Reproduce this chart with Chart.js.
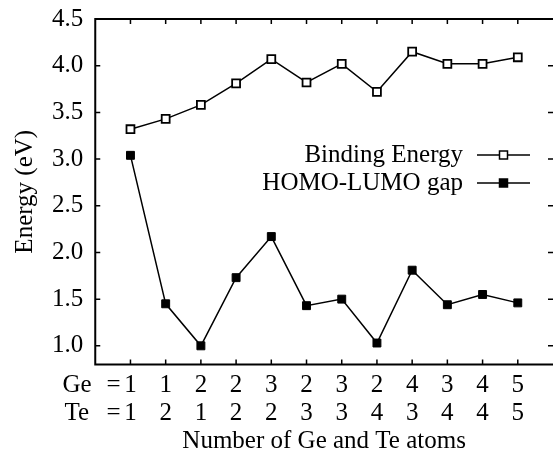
<!DOCTYPE html>
<html>
<head>
<meta charset="utf-8">
<script src="https://cdn.jsdelivr.net/npm/chart.js@4/dist/chart.umd.min.js"></script>
<style>
  html, body { margin: 0; padding: 0; background: #fff; }
</style>
</head>
<body>
<canvas id="grafico" width="553" height="459"></canvas>
<script>
/* DADOS */

const posicoes = [1, 2, 3, 4, 5, 6, 7, 8, 9, 10, 11, 12];
const atomosGe = ['1', '1', '2', '2', '3', '2', '3', '2', '4', '3', '4', '5'];
const atomosTe = ['1', '2', '1', '2', '2', '3', '3', '4', '3', '4', '4', '5'];
const bindingEnergy = [3.32, 3.43, 3.58, 3.81, 4.07, 3.82, 4.02, 3.72, 4.15, 4.02, 4.02, 4.09];
const homoLumo = [3.04, 1.45, 1.00, 1.73, 2.17, 1.43, 1.50, 1.03, 1.81, 1.44, 1.55, 1.46];
const ticksY = [1.0, 1.5, 2.0, 2.5, 3.0, 3.5, 4.0, 4.5];

const familia = '"Liberation Serif", "Times New Roman", serif';
const fonte = '25px ' + familia;
const paddingX = 7;
const alturaLinha = 28;

function pontos(valores) {
    return valores.map((v, i) => ({ x: posicoes[i], y: v }));
}

/* MOLDURA, TICKS PARA DENTRO E LEGENDA */

const moldura = {
    id: 'moldura',
    afterDraw(chart) {
        const ctx = chart.ctx;
        const area = chart.chartArea;
        const sx = chart.scales.x;
        const sy = chart.scales.y;
        ctx.save();
        ctx.strokeStyle = '#000';
        ctx.lineWidth = 2;
        // esquerda, topo e base (a borda direita fica fora da imagem)
        ctx.beginPath();
        ctx.moveTo(area.right + 2, area.top);
        ctx.lineTo(area.left, area.top);
        ctx.lineTo(area.left, area.bottom);
        ctx.lineTo(area.right + 2, area.bottom);
        ctx.stroke();

        ctx.lineWidth = 1.5;
        ctx.beginPath();
        posicoes.forEach(p => {
            let x = sx.getPixelForValue(p);
            ctx.moveTo(x, area.top);
            ctx.lineTo(x, area.top + 5);
            ctx.moveTo(x, area.bottom);
            ctx.lineTo(x, area.bottom - 5);
        });
        ticksY.forEach(v => {
            let y = sy.getPixelForValue(v);
            ctx.moveTo(area.left, y);
            ctx.lineTo(area.left + 5, y);
            ctx.moveTo(area.right, y);
            ctx.lineTo(area.right - 5, y);
        });
        ctx.stroke();

        // "Ge =" e "Te =" antes do primeiro rotulo
        ctx.font = fonte;
        ctx.fillStyle = '#000';
        ctx.textBaseline = 'middle';
        ctx.textAlign = 'left';
        let x1 = sx.getPixelForValue(posicoes[0]);
        let y1 = sx.top + paddingX + alturaLinha / 2;
        ctx.fillText('Ge', x1 - 68, y1);
        ctx.fillText('Te', x1 - 66, y1 + alturaLinha);
        ctx.textAlign = 'center';
        ctx.fillText('=', x1 - 17, y1);
        ctx.fillText('=', x1 - 17, y1 + alturaLinha);

        // legenda
        const legendas = [
            { texto: 'Binding Energy', ds: chart.data.datasets[0], y: 155 },
            { texto: 'HOMO-LUMO gap', ds: chart.data.datasets[1], y: 183 }
        ];
        legendas.forEach(l => {
            ctx.textAlign = 'right';
            ctx.fillStyle = '#000';
            ctx.fillText(l.texto, 463, l.y);
            ctx.lineWidth = 1.5;
            ctx.beginPath();
            ctx.moveTo(477, l.y);
            ctx.lineTo(530, l.y);
            ctx.stroke();
            ctx.fillStyle = l.ds.pointBackgroundColor;
            ctx.fillRect(499.5, l.y - 4, 8, 8);
            ctx.strokeRect(499.5, l.y - 4, 8, 8);
        });
        ctx.restore();
    }
};

const grafico = new Chart(document.querySelector('#grafico'), {
    type: 'line',
    data: {
        datasets: [{
            label: 'Binding Energy',
            data: pontos(bindingEnergy),
            borderColor: '#000',
            borderWidth: 1.5,
            pointStyle: 'rect',
            pointRadius: 5.6,
            pointBorderWidth: 1.8,
            pointBackgroundColor: '#fff',
            pointBorderColor: '#000',
            tension: 0
        }, {
            label: 'HOMO-LUMO gap',
            data: pontos(homoLumo),
            borderColor: '#000',
            borderWidth: 1.5,
            pointStyle: 'rect',
            pointRadius: 5.6,
            pointBorderWidth: 1,
            pointBackgroundColor: '#000',
            pointBorderColor: '#000',
            tension: 0
        }]
    },
    options: {
        responsive: false,
        animation: false,
        devicePixelRatio: 1,
        layout: { autoPadding: false, padding: { top: 0, right: 0, left: 10, bottom: 10 } },
        plugins: { legend: { display: false }, tooltip: { enabled: false } },
        scales: {
            x: {
                type: 'linear',
                min: 0,
                max: 13,
                afterBuildTicks: axis => { axis.ticks = posicoes.map(v => ({ value: v })); },
                afterFit: axis => { axis.paddingLeft = 0; axis.paddingRight = 0; },
                grid: { display: false, drawTicks: false },
                border: { display: false },
                ticks: {
                    padding: paddingX,
                    color: '#000',
                    maxRotation: 0,
                    autoSkip: false,
                    font: { family: familia, size: 25, lineHeight: 1.12 },
                    callback: v => [atomosGe[v - 1], atomosTe[v - 1]]
                },
                title: {
                    display: true,
                    text: 'Number of Ge and Te atoms',
                    color: '#000',
                    padding: { top: 0, bottom: 0 },
                    font: { family: familia, size: 25, lineHeight: 0.58 }
                }
            },
            y: {
                min: 0.8,
                max: 4.5,
                afterBuildTicks: axis => { axis.ticks = ticksY.map(v => ({ value: v })); },
                afterFit: axis => { axis.paddingTop = 19; axis.paddingBottom = 0; },
                grid: { display: false, drawTicks: false },
                border: { display: false },
                ticks: {
                    padding: 12,
                    color: '#000',
                    font: { family: familia, size: 25 },
                    callback: v => v.toFixed(1)
                },
                title: {
                    display: true,
                    text: 'Energy (eV)',
                    color: '#000',
                    padding: { top: 0, bottom: 0 },
                    font: { family: familia, size: 25 }
                }
            }
        }
    },
    plugins: [moldura]
});
</script>
</body>
</html>
